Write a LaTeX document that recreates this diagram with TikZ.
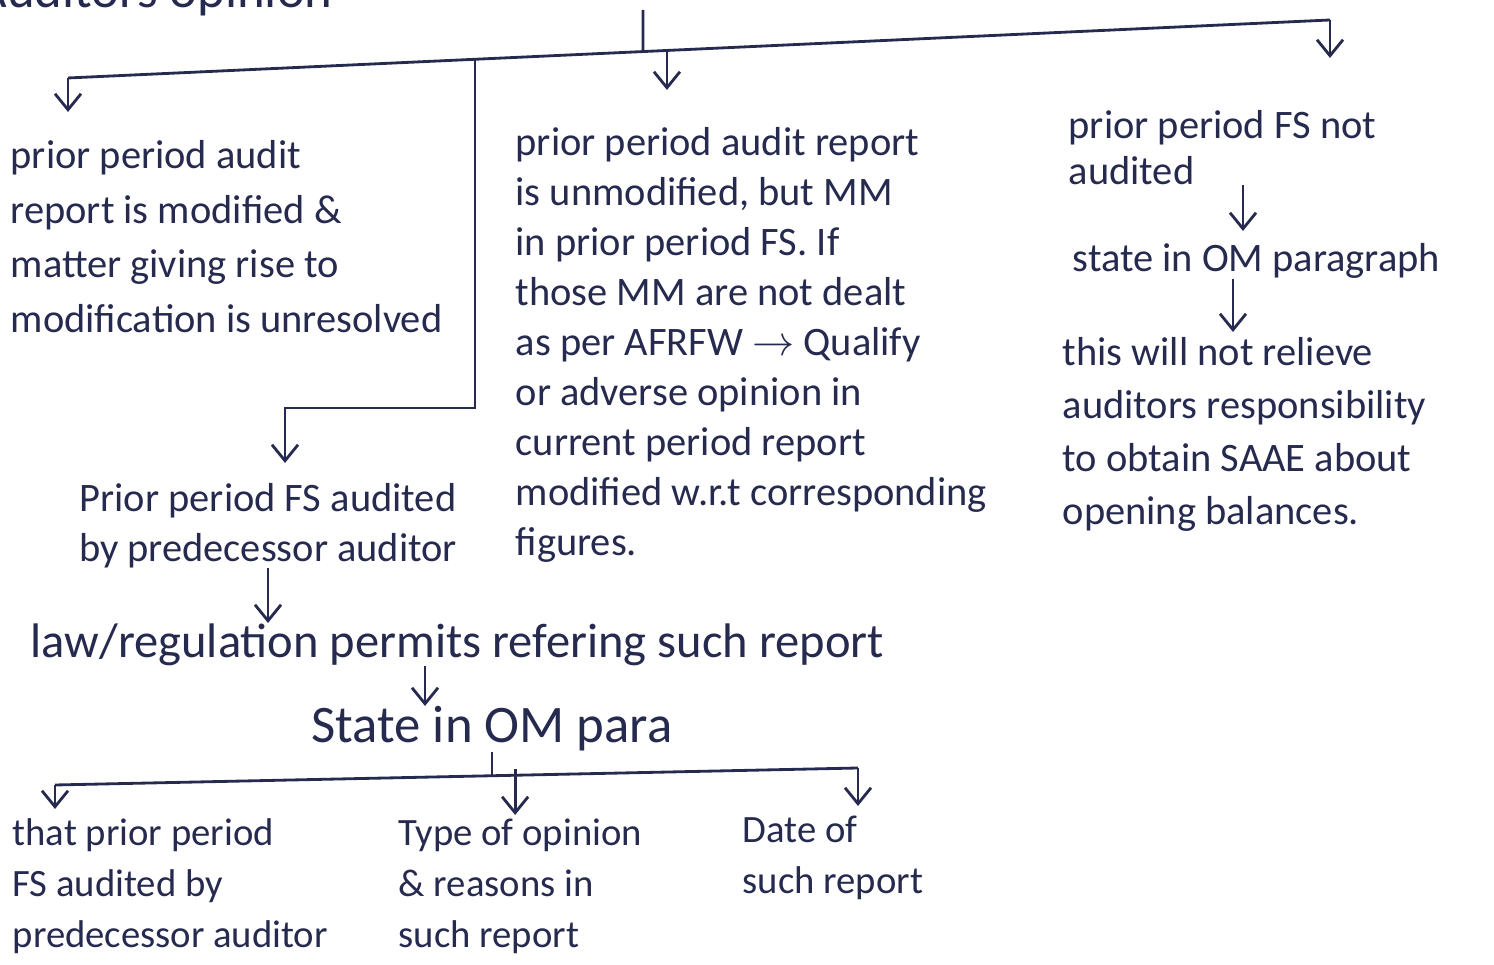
\documentclass[tikz,border=0pt]{standalone}
\usepackage{fontspec}
\setmainfont{Carlito}
\usepackage{tikz}
\usetikzlibrary{arrows.meta, positioning, calc}
\definecolor{myink}{RGB}{38,42,78}
\tikzset{
  note/.style={anchor=north west, align=left, inner sep=0pt, text=myink,
    font=\fontsize{11.5}{14.5}\selectfont},
  arrow/.style={-{Straight Barb[length=1.6mm,width=2.6mm]}, line width=0.8pt, color=myink},
  line/.style={line width=0.8pt, color=myink}
}

\begin{document}
\begin{tikzpicture}[x=0.01cm, y=-0.01cm]
  \useasboundingbox (0,0) rectangle (1494,965);

  % heading, cut by the page edge
  \node[note, anchor=base west, font=\fontsize{15}{17}\selectfont] (head) at (-24,8) {Auditors opinion};

  % first level
  \node[note, font=\fontsize{11.5}{15.5}\selectfont] (modified) at (10,140)
    {prior period audit\\report is modified \&\\matter giving rise to\\modification is unresolved};
  \node[note, font=\fontsize{11.5}{14.2}\selectfont] (unmod) at (515,127)
    {prior period audit report\\is unmodified, but MM\\in prior period FS. If\\those MM are not dealt\\as per AFRFW $\rightarrow$ Qualify\\or adverse opinion in\\current period report\\modified w.r.t corresponding\\figures.};
  \node[note, font=\fontsize{11.5}{13}\selectfont] (notaud) at (1068,110) {prior period FS not\\audited};
  \node[note] (stom) at (1072,243) {state in OM paragraph};
  \node[note, font=\fontsize{11.5}{15}\selectfont] (relieve) at (1062,337)
    {this will not relieve\\auditors responsibility\\to obtain SAAE about\\opening balances.};

  % predecessor branch
  \node[note, anchor=north, align=center, font=\fontsize{11.5}{14}\selectfont] (pred) at (268,483)
    {Prior period FS audited\\by predecessor auditor};
  \node[note, font=\fontsize{13.8}{16}\selectfont] (law) at (30,623)
    {law/regulation permits refering such report};
  \node[note, anchor=north, font=\fontsize{15}{17}\selectfont] (stpara) at (492,706) {State in OM para};
  \node[note, font=\fontsize{11}{14.5}\selectfont] (thatfs) at (12,818) {that prior period\\FS audited by\\predecessor auditor};
  \node[note, font=\fontsize{11}{14.5}\selectfont] (typeop) at (398,818) {Type of opinion\\\& reasons in\\such report};
  \node[note, font=\fontsize{11}{14.5}\selectfont] (dateof) at (742,815) {Date of\\such report};

  % top bus
  \coordinate (topin) at (643,10);
  \coordinate (busL) at (68,78);
  \coordinate (busR) at (1330,20);
  \coordinate (busK) at ($(busL)!0.3225!(busR)$);
  \coordinate (busM) at ($(busL)!0.4746!(busR)$);
  \coordinate (topjoin) at ($(busL)!0.4556!(busR)$);
  \draw[line] (busL) -- (busR);
  \draw[line] (topin) -- (topjoin);
  \draw[arrow, shorten >=0.28cm] (busL) -- (busL |- modified.north);
  \draw[arrow, shorten >=0.37cm] (busM) -- (busM |- unmod.north);
  \draw[arrow, shorten >=0.52cm] (busR) -- (busR |- notaud.north);
  \coordinate (elbow) at (285,408);
  \draw[arrow, shorten >=0.2cm] (busK) |- (elbow) -- (elbow |- pred.north);

  % right column
  \coordinate (cx1) at (1243,0);
  \coordinate (cx2) at (1233,0);
  \draw[arrow, shorten >=0.12cm] (notaud.south -| cx1) -- (cx1 |- stom.north);
  \draw[arrow, shorten >=0.05cm] (stom.south -| cx2) -- (cx2 |- relieve.north);

  % predecessor chain
  \coordinate (lawx) at (425,0);
  \draw[arrow] (pred.south) -- (pred.south |- law.north);
  \draw[arrow] (law.south -| lawx) -- (lawx |- stpara.north);

  % bottom bus
  \coordinate (bus2L) at (55,785);
  \coordinate (bus2R) at (858,768);
  \coordinate (b2stem) at ($(bus2L)!0.54!(bus2R)$);
  \coordinate (b2mid) at ($(bus2L)!0.573!(bus2R)$);
  \draw[line] (bus2L) -- (bus2R);
  \draw[line] (stpara.south) -- (stpara.south |- b2stem);
  \draw[arrow, shorten >=0.09cm] (bus2L) -- (bus2L |- thatfs.north);
  \draw[arrow, shorten >=0.03cm] ([yshift=0.06cm]b2mid) -- (b2mid |- typeop.north);
  \draw[arrow, shorten >=0.09cm] (bus2R) -- (bus2R |- dateof.north);
\end{tikzpicture}
\end{document}
